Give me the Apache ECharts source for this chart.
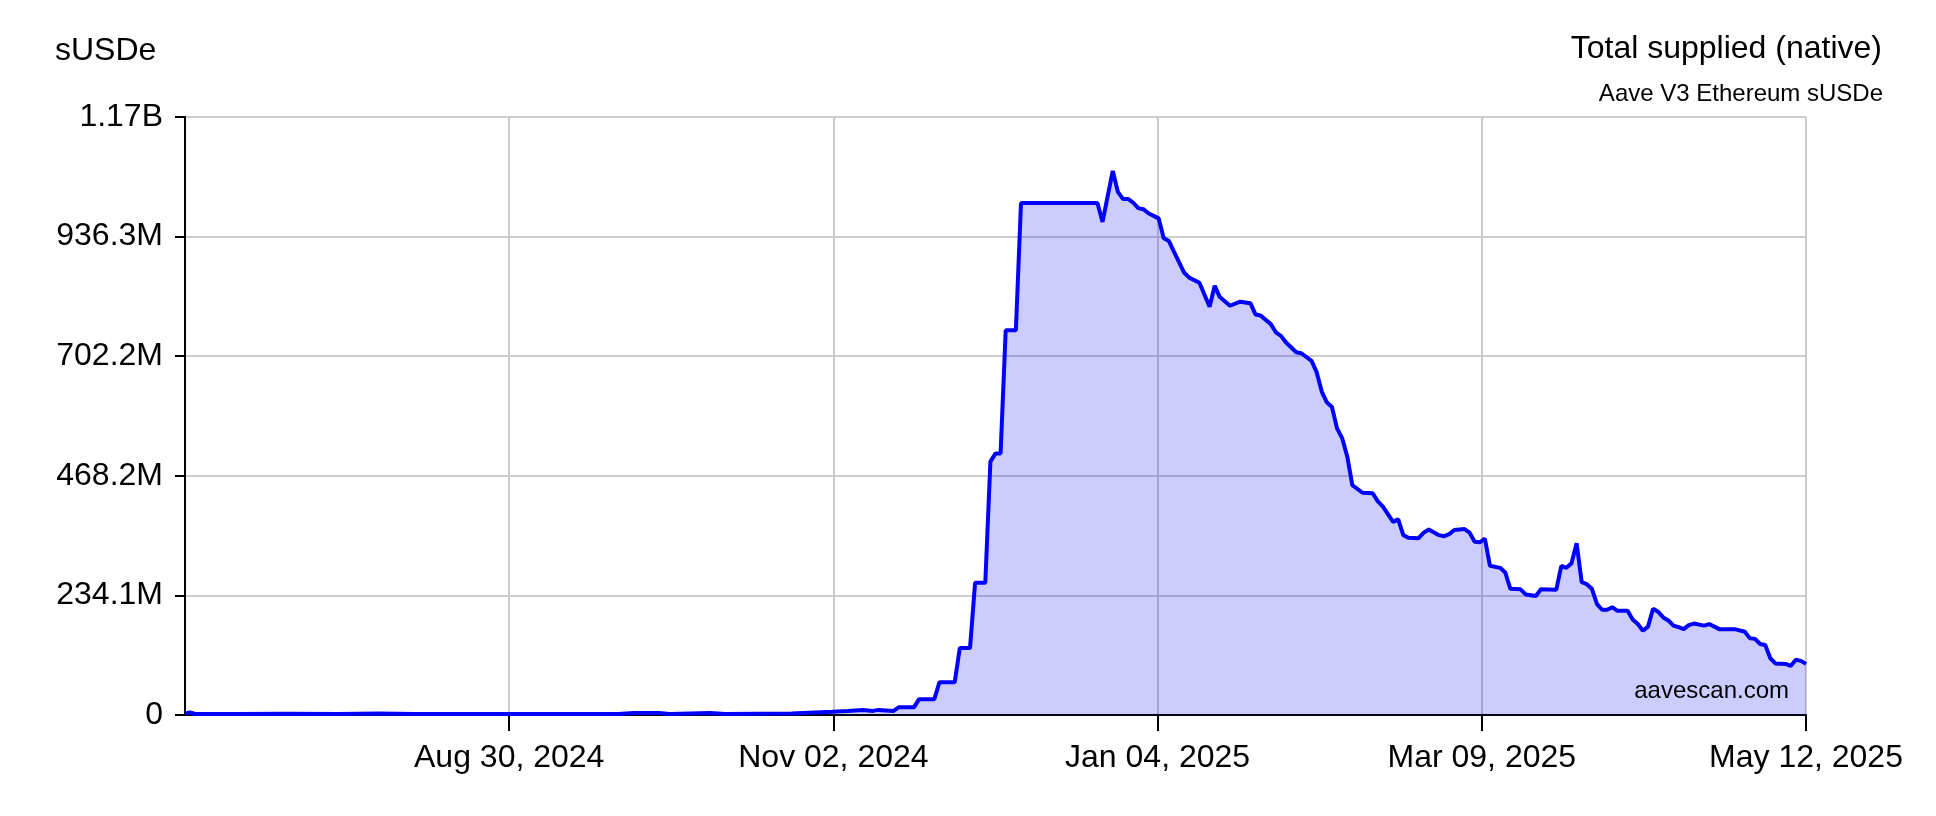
<!DOCTYPE html>
<html>
<head>
<meta charset="utf-8">
<title>sUSDe total supplied</title>
<script src="https://cdn.jsdelivr.net/npm/echarts@6/dist/echarts.min.js"></script>
<style>
    html, body { margin: 0; padding: 0; background: #fff; }
    #supplied_con { width: 1936px; height: 816px; }
</style>
</head>
<body>
<div id="supplied_con"></div>
<script>
// total supplied, in millions of sUSDe
const startDate = '2024-06-28';
const endDate = '2025-05-12';
const dates = [
    '2024-06-28', '2024-06-29', '2024-06-30', '2024-07-08', '2024-07-18', '2024-07-28', '2024-08-05', '2024-08-12',
    '2024-08-27', '2024-09-11', '2024-09-21', '2024-09-24', '2024-09-29', '2024-10-01', '2024-10-09', '2024-10-12',
    '2024-10-25', '2024-11-02', '2024-11-05', '2024-11-08', '2024-11-10', '2024-11-11', '2024-11-14', '2024-11-15',
    '2024-11-18', '2024-11-19', '2024-11-22', '2024-11-23', '2024-11-26', '2024-11-27', '2024-11-29', '2024-11-30',
    '2024-12-02', '2024-12-03', '2024-12-04', '2024-12-05', '2024-12-06', '2024-12-08', '2024-12-09', '2024-12-24',
    '2024-12-25', '2024-12-27', '2024-12-28', '2024-12-29', '2024-12-30', '2024-12-31', '2025-01-01', '2025-01-02',
    '2025-01-03', '2025-01-05', '2025-01-06', '2025-01-07', '2025-01-08', '2025-01-10', '2025-01-11', '2025-01-13',
    '2025-01-15', '2025-01-16', '2025-01-17', '2025-01-19', '2025-01-21', '2025-01-23', '2025-01-24', '2025-01-25',
    '2025-01-27', '2025-01-28', '2025-01-29', '2025-01-30', '2025-02-01', '2025-02-02', '2025-02-04', '2025-02-05',
    '2025-02-06', '2025-02-07', '2025-02-08', '2025-02-09', '2025-02-10', '2025-02-11', '2025-02-12', '2025-02-14',
    '2025-02-16', '2025-02-17', '2025-02-18', '2025-02-20', '2025-02-21', '2025-02-22', '2025-02-23', '2025-02-25',
    '2025-02-26', '2025-02-27', '2025-03-01', '2025-03-02', '2025-03-03', '2025-03-04', '2025-03-06', '2025-03-07',
    '2025-03-08', '2025-03-09', '2025-03-10', '2025-03-11', '2025-03-13', '2025-03-14', '2025-03-15', '2025-03-17',
    '2025-03-18', '2025-03-20', '2025-03-21', '2025-03-24', '2025-03-25', '2025-03-26', '2025-03-27', '2025-03-28',
    '2025-03-29', '2025-03-30', '2025-03-31', '2025-04-01', '2025-04-02', '2025-04-03', '2025-04-04', '2025-04-05',
    '2025-04-07', '2025-04-08', '2025-04-09', '2025-04-10', '2025-04-11', '2025-04-12', '2025-04-13', '2025-04-14',
    '2025-04-15', '2025-04-16', '2025-04-17', '2025-04-18', '2025-04-19', '2025-04-20', '2025-04-22', '2025-04-23',
    '2025-04-25', '2025-04-28', '2025-04-30', '2025-05-01', '2025-05-02', '2025-05-03', '2025-05-04', '2025-05-05',
    '2025-05-06', '2025-05-08', '2025-05-09', '2025-05-10', '2025-05-11', '2025-05-12'
];
const supplied = [
    3, 5, 2, 2, 2.5, 2, 3, 2,
    2, 2, 2, 4, 4, 2, 4, 2,
    3, 6.5, 8, 10, 8, 10, 8, 15,
    15, 31, 31, 64, 64, 131, 131, 259,
    259, 496, 512, 512, 753, 753, 1002, 1002,
    965, 1065, 1024, 1010, 1010, 1003, 992, 990,
    982, 972, 933, 928, 907, 866, 856, 846,
    799, 840, 818, 801, 809, 806, 784, 782,
    765, 749, 742, 729, 710, 708, 693, 671,
    633, 612, 603, 561, 542, 506, 450, 435,
    434, 418, 408, 378, 383, 352, 347, 346,
    357, 363, 352, 350, 354, 362, 364, 357,
    339, 338, 345, 292, 288, 279, 247, 246,
    236, 233, 246, 245, 292, 288, 297, 336,
    260, 256, 247, 217, 206, 206, 211, 204,
    204, 187, 178, 165, 173, 208, 202, 191,
    185, 175, 172, 168, 176, 179, 175, 178,
    168, 168, 163, 150, 149, 139, 137, 111,
    101, 100, 96, 108, 106, 100
];
const yTickLabels = ['0', '234.1M', '468.2M', '702.2M', '936.3M', '1.17B'];
const xTickLabels = ['', 'Aug 30, 2024', 'Nov 02, 2024', 'Jan 04, 2025', 'Mar 09, 2025', 'May 12, 2025'];

const DAY = 86400000;
const span = (Date.parse(endDate) - Date.parse(startDate)) / DAY;
const xStep = span / (xTickLabels.length - 1);
const yMax = 1170.4;
const yStep = yMax / (yTickLabels.length - 1);

const seriesData = dates.map((d, i) => [(Date.parse(d) - Date.parse(startDate)) / DAY, supplied[i]]);
const xTickValues = xTickLabels.map((_, i) => i * xStep).slice(1);

const font = 'Liberation Sans, Arial, Helvetica, sans-serif';

let chart = echarts.init(document.getElementById('supplied_con'));

const option = {
    animation: false,
    backgroundColor: '#fff',
    title: [
        {
            text: 'Total supplied (native)',
            right: 49,
            top: 28,
            textStyle: { fontFamily: font, fontSize: 32, fontWeight: 'normal', color: '#000' }
        },
        {
            text: 'Aave V3 Ethereum sUSDe',
            right: 48,
            top: 77,
            textStyle: { fontFamily: font, fontSize: 24, fontWeight: 'normal', color: '#000' }
        },
        {
            text: 'sUSDe',
            left: 50,
            top: 30,
            textStyle: { fontFamily: font, fontSize: 32, fontWeight: 'normal', color: '#000' }
        }
    ],
    graphic: [
        {
            type: 'text',
            right: 147,
            top: 679,
            z: 10,
            style: { text: 'aavescan.com', font: '24px ' + font, fill: '#000' }
        }
    ],
    grid: {
        left: 185,
        right: 130,
        top: 117,
        bottom: 101
    },
    xAxis: {
        type: 'value',
        min: 0,
        max: span,
        interval: xStep,
        axisLine: { lineStyle: { color: '#000', width: 2 } },
        axisTick: { show: true, length: 16, customValues: xTickValues, lineStyle: { color: '#000', width: 2 } },
        axisLabel: {
            customValues: xTickValues,
            margin: 27,
            fontFamily: font,
            fontSize: 32,
            color: '#000',
            showMaxLabel: true,
            formatter: function (v) {
                return xTickLabels[Math.round(v / xStep)];
            }
        },
        splitLine: { show: true, lineStyle: { color: '#cccccc', width: 2 } }
    },
    yAxis: {
        type: 'value',
        min: 0,
        max: yMax,
        interval: yStep,
        axisLine: { show: true, lineStyle: { color: '#000', width: 2 } },
        axisTick: { show: true, length: 10, lineStyle: { color: '#000', width: 2 } },
        axisLabel: {
            margin: 22,
            fontFamily: font,
            fontSize: 32,
            color: '#000',
            formatter: function (v) {
                return yTickLabels[Math.round(v / yStep)];
            }
        },
        splitLine: { show: true, lineStyle: { color: '#cccccc', width: 2 } }
    },
    series: [
        {
            name: 'Total supplied',
            type: 'line',
            showSymbol: false,
            data: seriesData,
            lineStyle: { color: '#0000ff', width: 4 },
            itemStyle: { color: '#0000ff' },
            areaStyle: { color: 'rgba(0, 0, 255, 0.2)', opacity: 1 }
        }
    ]
};
chart.setOption(option);

window.addEventListener('resize', function () {
    chart.resize();
});
</script>
</body>
</html>
